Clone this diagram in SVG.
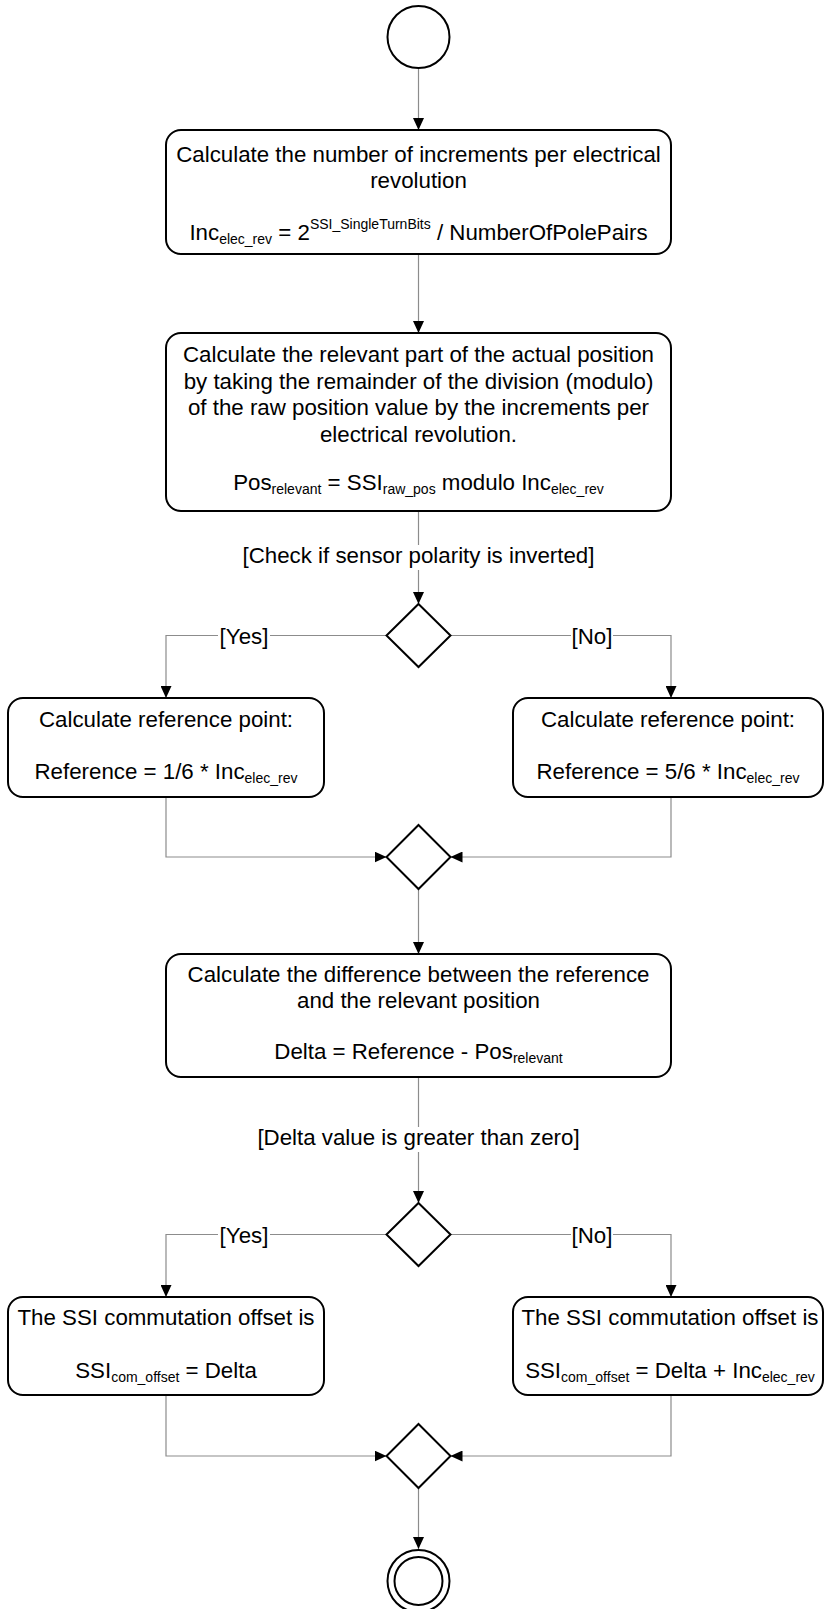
<svg xmlns="http://www.w3.org/2000/svg" width="824" height="1609" viewBox="0 0 824 1609">
<style>
.bg{fill:#fff}
.node{fill:#fff;stroke:#000;stroke-width:2}
.c{fill:none;stroke:#8c8c8c;stroke-width:1.2}
.t{font-family:"Liberation Sans",Arial,sans-serif;font-size:22.3px;fill:#000;text-anchor:middle}
.s{font-size:14px}
.lbl{fill:#fff}
</style>
<defs>
<marker id="ah" markerUnits="userSpaceOnUse" markerWidth="12" markerHeight="11" refX="12" refY="5.5" orient="auto">
<path d="M0,0 L12,5.5 L0,11 z" fill="#000"/>
</marker>
</defs>
<rect class="bg" x="0" y="0" width="824" height="1609"/>

<g id="connectors">
<path class="c" d="M418.5,69 V130" marker-end="url(#ah)"/>
<path class="c" d="M418.5,255 V333" marker-end="url(#ah)"/>
<path class="c" d="M418.5,512 V604" marker-end="url(#ah)"/>
<path class="c" d="M386.5,635.5 H166 V698" marker-end="url(#ah)"/>
<path class="c" d="M450.5,635.5 H671 V698" marker-end="url(#ah)"/>
<path class="c" d="M166,798 V857 H386.5" marker-end="url(#ah)"/>
<path class="c" d="M671,798 V857 H450.5" marker-end="url(#ah)"/>
<path class="c" d="M418.5,889 V954" marker-end="url(#ah)"/>
<path class="c" d="M418.5,1078 V1203" marker-end="url(#ah)"/>
<path class="c" d="M386.5,1234.5 H166 V1297" marker-end="url(#ah)"/>
<path class="c" d="M450.5,1234.5 H671 V1297" marker-end="url(#ah)"/>
<path class="c" d="M166,1396 V1456 H386.5" marker-end="url(#ah)"/>
<path class="c" d="M671,1396 V1456 H450.5" marker-end="url(#ah)"/>
<path class="c" d="M418.5,1488 V1549" marker-end="url(#ah)"/>
<g id="guard1">
<rect class="lbl" x="241" y="545" width="355" height="25"/>
<text class="t" x="418.5" y="563">[Check if sensor polarity is inverted]</text>
</g>
<g id="guard2">
<rect class="lbl" x="256" y="1127" width="325" height="25"/>
<text class="t" x="418.5" y="1145">[Delta value is greater than zero]</text>
</g>
<g id="yes1"><rect class="lbl" x="218" y="624" width="52" height="24"/><text class="t" x="244" y="644">[Yes]</text></g>
<g id="no1"><rect class="lbl" x="571" y="624" width="42" height="24"/><text class="t" x="592" y="644">[No]</text></g>
<g id="yes2"><rect class="lbl" x="218" y="1223" width="52" height="24"/><text class="t" x="244" y="1243">[Yes]</text></g>
<g id="no2"><rect class="lbl" x="571" y="1223" width="42" height="24"/><text class="t" x="592" y="1243">[No]</text></g>
</g>

<g id="start"><circle class="node" cx="418.5" cy="37" r="31"/></g>

<g id="box1">
<rect class="node" x="166" y="130" width="505" height="124" rx="15"/>
<text class="t" x="418.5" y="162">Calculate the number of increments per electrical</text>
<text class="t" x="418.5" y="188">revolution</text>
<text class="t" x="418.5" y="240">Inc<tspan class="s" dy="4">elec_rev</tspan><tspan dy="-4"> = 2</tspan><tspan class="s" dy="-11">SSI_SingleTurnBits</tspan><tspan dy="11"> / NumberOfPolePairs</tspan></text>
</g>

<g id="box2">
<rect class="node" x="166" y="333" width="505" height="178" rx="15"/>
<text class="t" x="418.5" y="362">Calculate the relevant part of the actual position</text>
<text class="t" x="418.5" y="388.5">by taking the remainder of the division (modulo)</text>
<text class="t" x="418.5" y="415">of the raw position value by the increments per</text>
<text class="t" x="418.5" y="441.5">electrical revolution.</text>
<text class="t" x="418.5" y="490">Pos<tspan class="s" dy="4">relevant</tspan><tspan dy="-4"> = SSI</tspan><tspan class="s" dy="4">raw_pos</tspan><tspan dy="-4"> modulo Inc</tspan><tspan class="s" dy="4">elec_rev</tspan></text>
</g>

<g id="decision1"><polygon class="node" points="418.5,604 450.5,635.5 418.5,667 386.5,635.5"/></g>

<g id="refYes">
<rect class="node" x="8" y="698" width="316" height="99" rx="15"/>
<text class="t" x="166" y="727">Calculate reference point:</text>
<text class="t" x="166" y="779">Reference = 1/6 * Inc<tspan class="s" dy="4">elec_rev</tspan></text>
</g>

<g id="refNo">
<rect class="node" x="513" y="698" width="310" height="99" rx="15"/>
<text class="t" x="668" y="727">Calculate reference point:</text>
<text class="t" x="668" y="779">Reference = 5/6 * Inc<tspan class="s" dy="4">elec_rev</tspan></text>
</g>

<g id="merge1"><polygon class="node" points="418.5,825 450.5,857 418.5,889 386.5,857"/></g>

<g id="box3">
<rect class="node" x="166" y="954" width="505" height="123" rx="15"/>
<text class="t" x="418.5" y="982">Calculate the difference between the reference</text>
<text class="t" x="418.5" y="1008">and the relevant position</text>
<text class="t" x="418.5" y="1059">Delta = Reference - Pos<tspan class="s" dy="4">relevant</tspan></text>
</g>

<g id="decision2"><polygon class="node" points="418.5,1203 450.5,1234.5 418.5,1266 386.5,1234.5"/></g>

<g id="offYes">
<rect class="node" x="8" y="1297" width="316" height="98" rx="15"/>
<text class="t" x="166" y="1325">The SSI commutation offset is</text>
<text class="t" x="166" y="1378">SSI<tspan class="s" dy="4">com_offset</tspan><tspan dy="-4"> = Delta</tspan></text>
</g>

<g id="offNo">
<rect class="node" x="513" y="1297" width="310" height="98" rx="15"/>
<text class="t" x="670" y="1325">The SSI commutation offset is</text>
<text class="t" x="670" y="1378">SSI<tspan class="s" dy="4">com_offset</tspan><tspan dy="-4"> = Delta + Inc</tspan><tspan class="s" dy="4">elec_rev</tspan></text>
</g>

<g id="merge2"><polygon class="node" points="418.5,1424 450.5,1456 418.5,1488 386.5,1456"/></g>

<g id="end">
<circle class="node" cx="418.5" cy="1581" r="31"/>
<circle class="node" cx="418.5" cy="1581" r="24"/>
</g>
</svg>
